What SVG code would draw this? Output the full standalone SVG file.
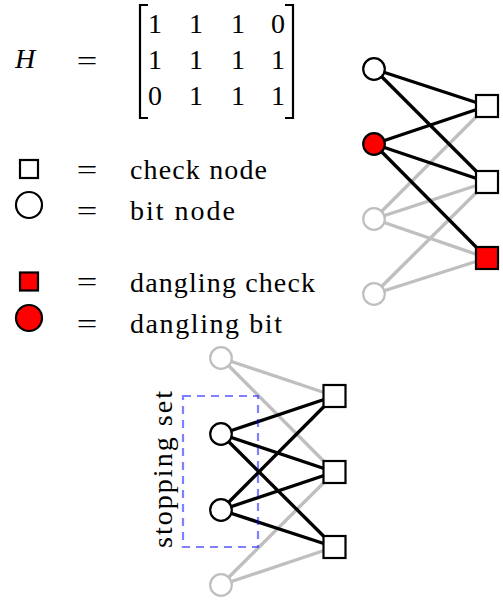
<svg xmlns="http://www.w3.org/2000/svg" width="503" height="600" viewBox="0 0 503 600">
  <style>
    text { font-family: "Liberation Serif", "Times New Roman", serif; font-size: 28px; fill: #000; }
    .it { font-style: italic; }
    .mid { text-anchor: middle; }
    .bracket { fill: none; stroke: #000; stroke-width: 2.2; }
    .e-on { stroke: #000; stroke-width: 3.4; }
    .e-off { stroke: #bfbfbf; stroke-width: 3.4; }
    .bit { fill: #fff; stroke: #000; stroke-width: 2.2; }
    .bit-off { fill: #fff; stroke: #bfbfbf; stroke-width: 2.2; }
    .chk { fill: #fff; stroke: #000; stroke-width: 2.2; }
    .red { fill: #ff0000; }
    .stop { fill: none; stroke: #0000ff; stroke-opacity: 0.5; stroke-width: 2.2; stroke-dasharray: 8 6; }
  </style>

  <!-- parity-check matrix -->
  <g id="matrix">
    <text class="it" x="15" y="68">H</text>
    <text class="mid" transform="translate(87,69.5) scale(1.3,1)">=</text>
    <path class="bracket" d="M148,5 H140 V118 H148"/>
    <path class="bracket" d="M285,5 H293 V118 H285"/>
    <g class="mid">
      <text x="155" y="33">1</text><text x="196" y="33">1</text><text x="238" y="33">1</text><text x="278" y="33">0</text>
      <text x="155" y="69">1</text><text x="196" y="69">1</text><text x="238" y="69">1</text><text x="278" y="69">1</text>
      <text x="155" y="105">0</text><text x="196" y="105">1</text><text x="238" y="105">1</text><text x="278" y="105">1</text>
    </g>
  </g>

  <!-- legend -->
  <g id="legend">
    <g id="legend-check">
      <rect class="chk" x="20" y="160" width="18" height="18"/>
      <text class="mid" transform="translate(87,179) scale(1.3,1)">=</text>
      <text x="130" y="179" textLength="137" lengthAdjust="spacing">check node</text>
    </g>
    <g id="legend-bit">
      <circle class="bit" cx="29" cy="205" r="13"/>
      <text class="mid" transform="translate(87,219.5) scale(1.3,1)">=</text>
      <text x="130" y="220" textLength="105" lengthAdjust="spacing">bit node</text>
    </g>
    <g id="legend-dangling-check">
      <rect class="chk red" x="20" y="272.5" width="18" height="18"/>
      <text class="mid" transform="translate(87,291) scale(1.3,1)">=</text>
      <text x="130" y="292" textLength="185" lengthAdjust="spacing">dangling check</text>
    </g>
    <g id="legend-dangling-bit">
      <circle class="bit red" cx="29" cy="318" r="13"/>
      <text class="mid" transform="translate(87,332.5) scale(1.3,1)">=</text>
      <text x="130" y="333" textLength="152" lengthAdjust="spacing">dangling bit</text>
    </g>
  </g>

  <!-- Tanner graph with dangling nodes: connectors -->
  <g id="top-edges">
    <line class="e-off" x1="374" y1="219" x2="487" y2="106"/>
    <line class="e-off" x1="374" y1="219" x2="487" y2="182"/>
    <line class="e-off" x1="374" y1="219" x2="487" y2="258"/>
    <line class="e-off" x1="374" y1="294" x2="487" y2="182"/>
    <line class="e-off" x1="374" y1="294" x2="487" y2="258"/>
    <line class="e-on" x1="374" y1="69" x2="487" y2="106"/>
    <line class="e-on" x1="374" y1="69" x2="487" y2="182"/>
    <line class="e-on" x1="374" y1="144" x2="487" y2="106"/>
    <line class="e-on" x1="374" y1="144" x2="487" y2="182"/>
    <line class="e-on" x1="374" y1="144" x2="487" y2="258"/>
  </g>
  <g id="top-b1"><circle class="bit" cx="374" cy="69" r="10.8"/></g>
  <g id="top-b2"><circle class="bit red" cx="374" cy="144" r="10.8"/></g>
  <g id="top-b3"><circle class="bit-off" cx="374" cy="219" r="10.8"/></g>
  <g id="top-b4"><circle class="bit-off" cx="374" cy="294" r="10.8"/></g>
  <g id="top-c1"><rect class="chk" x="476" y="95" width="22" height="22"/></g>
  <g id="top-c2"><rect class="chk" x="476" y="171" width="22" height="22"/></g>
  <g id="top-c3"><rect class="chk red" x="476" y="247" width="22" height="22"/></g>

  <!-- Tanner graph with stopping set: connectors -->
  <g id="bottom-edges">
    <line class="e-off" x1="221" y1="358" x2="334.5" y2="396"/>
    <line class="e-off" x1="221" y1="358" x2="334.5" y2="472"/>
    <line class="e-off" x1="221" y1="585" x2="334.5" y2="472"/>
    <line class="e-off" x1="221" y1="585" x2="334.5" y2="547"/>
    <line class="e-on" x1="221" y1="434" x2="334.5" y2="396"/>
    <line class="e-on" x1="221" y1="434" x2="334.5" y2="472"/>
    <line class="e-on" x1="221" y1="434" x2="334.5" y2="547"/>
    <line class="e-on" x1="221" y1="510" x2="334.5" y2="396"/>
    <line class="e-on" x1="221" y1="510" x2="334.5" y2="472"/>
    <line class="e-on" x1="221" y1="510" x2="334.5" y2="547"/>
  </g>
  <g id="bot-b1"><circle class="bit-off" cx="221" cy="358" r="10.8"/></g>
  <g id="bot-b2"><circle class="bit" cx="221" cy="434" r="10.8"/></g>
  <g id="bot-b3"><circle class="bit" cx="221" cy="510" r="10.8"/></g>
  <g id="bot-b4"><circle class="bit-off" cx="221" cy="585" r="10.8"/></g>
  <g id="bot-c1"><rect class="chk" x="323.5" y="385" width="22" height="22"/></g>
  <g id="bot-c2"><rect class="chk" x="323.5" y="461" width="22" height="22"/></g>
  <g id="bot-c3"><rect class="chk" x="323.5" y="536" width="22" height="22"/></g>

  <!-- stopping set outline and label -->
  <g id="stopping-set">
    <rect class="stop" x="183" y="396" width="75" height="151"/>
    <text transform="translate(172,548) rotate(-90)" textLength="157" lengthAdjust="spacing">stopping set</text>
  </g>
</svg>
